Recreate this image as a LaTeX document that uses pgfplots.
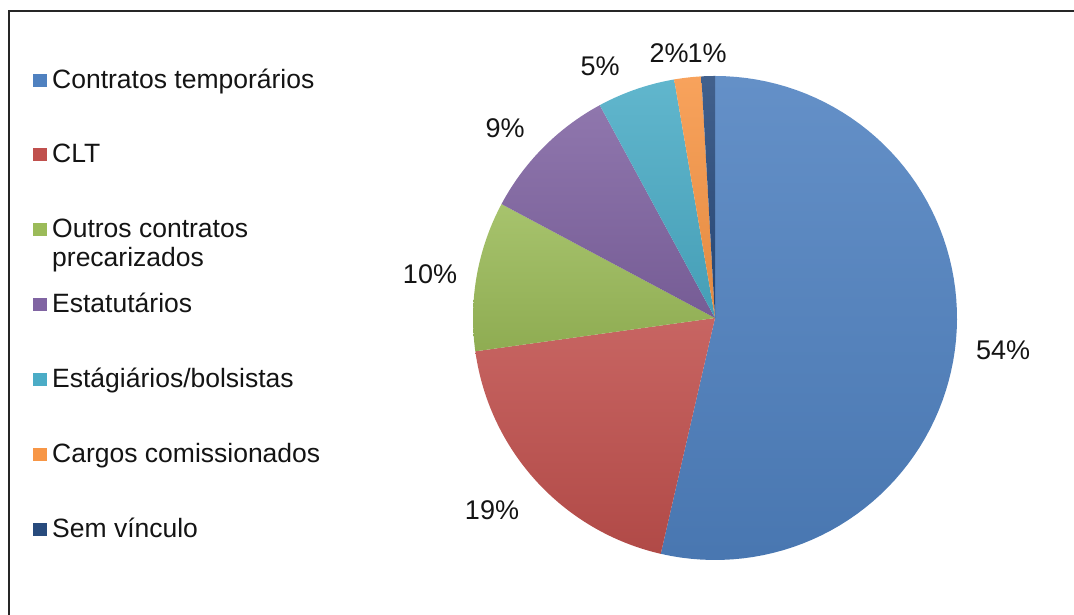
\documentclass[border=0pt]{standalone}
\usepackage{pgfplots}
\usepackage{pgfplotstable}
\pgfplotsset{compat=1.18}
\usepackage{fontspec}
\setmainfont{Liberation Sans}
\definecolor{pie0}{RGB}{79,129,192}
\definecolor{pie1}{RGB}{192,80,77}
\definecolor{pie2}{RGB}{155,187,89}
\definecolor{pie3}{RGB}{128,100,162}
\definecolor{pie4}{RGB}{75,172,198}
\definecolor{pie5}{RGB}{247,150,70}
\definecolor{pie6}{RGB}{40,75,125}
\definecolor{txt}{RGB}{20,20,20}
\pgfplotstableread{
share
53.6
19.2
10.0
9.3
5.2
1.8
0.9
}\piedata
\begin{document}
\begin{tikzpicture}[x=1bp,y=1bp]
\useasboundingbox (0,0) rectangle (1074,615);
\begin{axis}[at={(0,0)}, anchor=south west,
  width=1074bp, height=615bp, scale only axis,
  xmin=0, xmax=1074, ymin=0, ymax=615,
  hide axis, clip=false]
\def\cx{715}\def\cy{297}\def\rr{242}
\pgfmathsetmacro\cum{0}
\pgfplotsforeachungrouped \i in {0,...,6}{%
  \pgfplotstablegetelem{\i}{share}\of\piedata
  \let\sh\pgfplotsretval
  \pgfmathsetmacro\aa{90-3.6*\cum}%
  \pgfmathsetmacro\bb{90-3.6*(\cum+\sh)}%
  \edef\temp{\noexpand\addplot[draw=none, top color=pie\i!88!white, bottom color=pie\i!92!black, domain=\bb:\aa, samples=80]
     ({\cx+\rr*cos(x)},{\cy+\rr*sin(x)}) -- (axis cs:\cx,\cy) -- cycle;}%
  \temp
  \pgfmathsetmacro\cum{\cum+\sh}%
}
% data labels
\node[font=\fontsize{27bp}{31bp}\selectfont, text=txt, inner sep=0pt] at (axis cs:1003,265) {54\%};
\node[font=\fontsize{27bp}{31bp}\selectfont, text=txt, inner sep=0pt] at (axis cs:492,105) {19\%};
\node[font=\fontsize{27bp}{31bp}\selectfont, text=txt, inner sep=0pt] at (axis cs:430,341) {10\%};
\node[font=\fontsize{27bp}{31bp}\selectfont, text=txt, inner sep=0pt] at (axis cs:505,487) {9\%};
\node[font=\fontsize{27bp}{31bp}\selectfont, text=txt, inner sep=0pt] at (axis cs:600,549) {5\%};
\node[font=\fontsize{27bp}{31bp}\selectfont, text=txt, inner sep=0pt] at (axis cs:669,562) {2\%};
\node[font=\fontsize{27bp}{31bp}\selectfont, text=txt, inner sep=0pt] at (axis cs:707,562) {1\%};
\end{axis}
% frame (cropped: only left and top visible)
\draw[line width=2bp, black!85] (9,0) -- (9,604) -- (1074,604);
% legend
\begin{scope}[every node/.style={font=\fontsize{26.5bp}{30bp}\selectfont, text=txt, inner sep=0pt, anchor=base west}]
\foreach \kk/\bl/\tx in {0/89/{Contratos temporários},1/163/{CLT},2/238/{Outros contratos},3/313/{Estatutários},4/388/{Estágiários/bolsistas},5/463/{Cargos comissionados},6/538/{Sem vínculo}}{
  \pgfmathsetmacro\yb{615-\bl}
  \fill[pie\kk] (33,\yb+2) rectangle (47,\yb+15);
  \node at (52,\yb) {\tx};
}
\node at (52,615-267) {precarizados};
\end{scope}
\end{tikzpicture}
\end{document}
